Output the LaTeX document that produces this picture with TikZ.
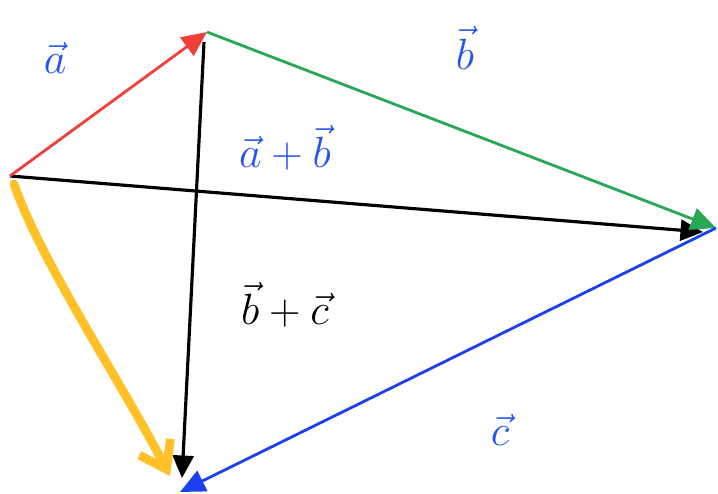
\documentclass[tikz,border=0pt]{standalone}
\usepackage{amsmath,amssymb}
\usepackage{xcolor}
\usepackage{tikz}
\usetikzlibrary{arrows.meta, positioning, calc}

\definecolor{penred}{RGB}{240,64,60}
\definecolor{pengreen}{RGB}{40,168,84}
\definecolor{penblue}{RGB}{28,64,240}
\definecolor{inkblue}{RGB}{36,84,236}
\definecolor{penyellow}{RGB}{255,192,40}

\begin{document}
\begin{tikzpicture}[
        x=0.02cm, y=-0.02cm,
        vec/.style={line width=1.6pt, -{Triangle[length=0.5cm, width=0.45cm]}},
        sum/.style={line width=1.8pt, black, -{Triangle[length=0.45cm, width=0.42cm]}},
        lbl/.style={font=\fontsize{28}{32}\selectfont, inner sep=0pt},
    ]
    \useasboundingbox (0,0) rectangle (718,494);

    \coordinate (pa) at (10,176);
    \coordinate (pb) at (207,32);
    \coordinate (pc) at (716,228);
    \coordinate (pd) at (180,492);

    \draw[sum] (pa) -- (703,232);
    \draw[sum] (204,42) -- (182,478);
    \draw[vec, penred] (pa) -- (pb);
    \draw[vec, pengreen] (pb) -- (pc);
    \draw[vec, penblue] (pc) -- (pd);

    \draw[penyellow, line width=5pt, line cap=round, -{Straight Barb[length=0.5cm, width=0.7cm]}]
        (14,184) .. controls (40,260) and (120,380) .. (170,476);

    \node (la) [lbl, text=inkblue] at (55,58) {$\vec{a}$};
    \node (lb) [lbl, text=inkblue] at (465,48) {$\vec{b}$};
    \node (lab) [lbl, text=inkblue] at (285,148) {$\vec{a}+\vec{b}$};
    \node (lbc) [lbl] at (285,305) {$\vec{b}+\vec{c}$};
    \node (lc) [lbl, text=inkblue] at (500,430) {$\vec{c}$};

\end{tikzpicture}
\end{document}
